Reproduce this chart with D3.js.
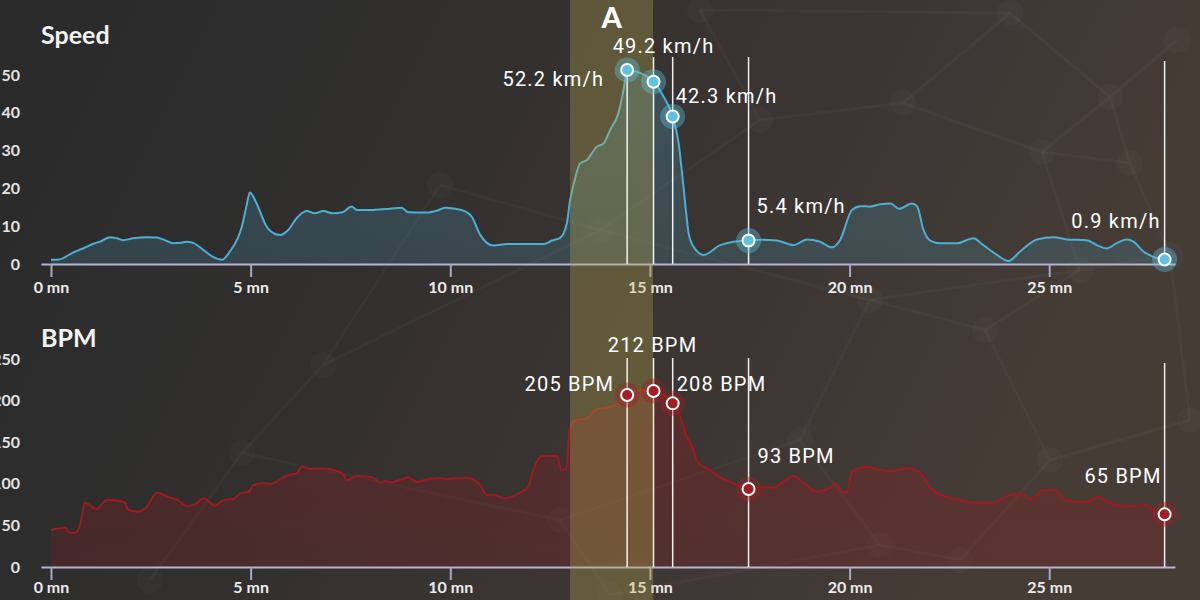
<!DOCTYPE html>
<html><head><meta charset="utf-8">
<script src="https://cdn.jsdelivr.net/npm/d3@7"></script>
<style>
html,body{margin:0;padding:0;background:#2c2c2c;overflow:hidden}
svg{display:block}
</style></head><body>
<svg id="chart" width="1200" height="600"></svg>
<script>
// ---------- DATA ----------
const speedTimes = [0.0,0.2,0.55,0.8,1.05,1.25,1.48,1.65,1.81,2.06,2.4,2.65,2.85,3.06,3.25,3.4,3.56,3.82,4.07,4.28,4.48,4.78,4.9,4.98,5.15,5.4,5.6,5.74,5.94,6.15,6.4,6.61,6.82,7.07,7.3,7.53,7.66,8.07,8.49,8.78,8.95,9.41,9.66,9.87,10.08,10.33,10.54,10.75,11.08,11.42,12.0,12.34,12.55,12.75,12.92,13.0,13.1,13.25,13.42,13.67,13.84,14.0,14.21,14.34,14.43,15.09,15.34,15.57,15.72,15.84,15.97,16.09,16.34,16.76,17.09,17.47,17.8,18.18,18.6,18.93,19.26,19.56,19.76,20.06,20.27,20.52,20.77,21.02,21.25,21.56,21.69,21.85,22.02,22.27,22.69,23.1,23.35,23.69,23.98,24.27,24.69,25.11,25.44,25.94,26.19,26.44,26.69,26.94,27.11,27.36,27.61,27.89];
const speedValues = [1.1,1.2,3.0,4.1,5.3,6.0,7.1,6.8,6.3,6.8,7.1,7.0,6.3,5.5,5.6,5.9,5.6,3.7,1.8,1.1,3.3,9.9,15.5,18.9,16.0,9.9,8.0,7.7,9.0,12.1,14.0,13.4,14.0,13.4,13.7,15.2,14.3,14.3,14.6,14.9,13.7,13.6,14.1,14.9,14.7,14.1,12.5,7.7,4.9,5.3,5.3,5.3,6.2,6.9,10.8,16.9,21.5,26.6,27.5,31.0,31.9,35.4,39.9,46.0,51.3,48.2,44.3,39.0,31.9,20.5,8.1,4.6,2.4,5.0,5.9,6.2,6.4,6.2,5.0,6.5,5.9,4.4,6.3,14.3,15.3,15.2,15.8,16.0,14.6,16.0,15.3,9.0,6.2,5.5,5.5,6.8,5.0,2.4,0.8,3.3,6.5,7.1,6.5,6.3,5.0,4.1,5.5,6.5,5.9,3.3,1.9,1.2];

const bpmTimes = [0.0,0.35,0.48,0.6,0.73,0.85,1.14,1.39,1.73,1.85,1.94,2.19,2.4,2.65,2.98,3.15,3.4,3.61,3.82,4.11,4.32,4.57,4.78,4.95,5.07,5.32,5.49,5.69,5.99,6.15,6.28,6.49,6.82,7.07,7.3,7.41,7.66,8.07,8.24,8.41,8.5,8.74,8.95,9.16,9.45,9.74,9.91,10.41,10.75,10.91,11.08,11.37,11.71,11.96,12.08,12.29,12.67,12.79,12.9,13.0,13.17,13.42,13.63,14.09,14.43,14.75,15.09,15.34,15.57,15.76,15.92,16.09,16.18,16.43,16.76,17.09,17.47,17.84,18.09,18.34,18.6,18.85,19.18,19.51,19.64,19.85,19.93,20.06,20.43,20.68,21.02,21.44,21.77,22.02,22.35,22.69,23.1,23.61,23.94,24.27,24.52,24.86,25.15,25.4,25.86,26.23,26.61,27.03,27.45,27.61,27.89];
const bpmValues = [44.5,47.3,41.2,41.2,50.5,77.3,69.7,80.5,79.3,77.3,68.5,66.5,72.5,89.3,83.3,81.3,73.3,75.3,82.5,73.7,80.5,81.7,89.7,90.5,98.6,100.6,99.8,103.8,111.4,112.2,120.6,117.8,118.6,116.6,112.2,104.6,109.8,107.4,101.4,103.8,101.8,104.6,107.8,102.2,105.8,106.6,105.8,107.4,98.6,86.5,86.5,82.5,88.5,97.4,116.6,133.4,133.4,116.6,118.0,168.6,176.7,178.7,188.7,193.5,206.7,212.7,211.5,206.7,196.7,180.6,156.6,140.6,126.6,118.6,107.8,100.6,93.7,96.5,95.3,102.6,109.8,100.6,90.5,95.7,100.6,89.7,89.7,114.6,120.6,117.8,115.4,118.6,112.6,95.3,85.3,81.3,77.3,77.3,85.3,88.5,81.3,92.5,92.5,80.5,77.7,83.7,75.3,73.3,74.5,68.5,63.3];

const markerTimes = [14.43, 15.09, 15.57, 17.47, 27.89];
const speedMarkerValues = [51.3, 48.2, 39.0, 6.2, 1.2];
const bpmMarkerValues = [206.7, 211.5, 196.7, 93.7, 63.3];
const speedLabels = ["52.2 km/h", "49.2 km/h", "42.3 km/h", "5.4 km/h", "0.9 km/h"];
const bpmLabels = ["205 BPM", "212 BPM", "208 BPM", "93 BPM", "65 BPM"];

const xTicks = [0, 5, 10, 15, 20, 25];
const xTickLabels = ["0 mn", "5 mn", "10 mn", "15 mn", "20 mn", "25 mn"];
const speedTicks = [0, 10, 20, 30, 40, 50];
const bpmTicks = [0, 50, 100, 150, 200, 250];
const highlightRange = [13.0, 15.08];
const highlightLabel = "A";
const titles = ["Speed", "BPM"];

// ---------- LAYOUT ----------
const W = 1200, H = 600;
const svg = d3.select("#chart");
const defs = svg.append("defs");

const bg = defs.append("linearGradient").attr("id","bgGrad").attr("x1","0").attr("y1","0").attr("x2","1").attr("y2","0.25");
bg.append("stop").attr("offset","0%").attr("stop-color","#2a2a2b");
bg.append("stop").attr("offset","35%").attr("stop-color","#302f2e");
bg.append("stop").attr("offset","100%").attr("stop-color","#463c36");
svg.append("rect").attr("width",W).attr("height",H).attr("fill","url(#bgGrad)");

// faint network texture (decoration)
const netNodes = [[1010,13],[1177,40],[1110,97],[1042,152],[1130,163],[903,103],[1080,270],[1170,255],[440,185],[323,365],[242,453],[560,520],[610,595],[800,440],[870,300],[985,330],[700,10],[880,545],[1050,460],[150,580],[600,230],[760,120],[1190,420],[960,560]];
const netLinks = [[0,2],[0,5],[1,2],[2,3],[2,4],[3,4],[3,5],[3,6],[4,7],[6,7],[6,14],[6,15],[8,9],[9,10],[10,19],[10,11],[11,12],[11,13],[13,14],[14,15],[13,17],[15,18],[18,22],[7,22],[18,23],[17,23],[8,20],[20,21],[21,16],[16,0],[21,5],[20,14],[9,20],[12,17]];
const net = svg.append("g");
net.selectAll("line").data(netLinks).join("line")
  .attr("x1",d=>netNodes[d[0]][0]).attr("y1",d=>netNodes[d[0]][1])
  .attr("x2",d=>netNodes[d[1]][0]).attr("y2",d=>netNodes[d[1]][1])
  .attr("stroke","rgba(255,255,255,0.028)").attr("stroke-width",3);
net.selectAll("circle").data(netNodes).join("circle")
  .attr("cx",d=>d[0]).attr("cy",d=>d[1]).attr("r",13)
  .attr("fill","rgba(255,255,255,0.025)");

const x = d3.scaleLinear().domain([-0.25, 28.15]).range([41, 1175]);

function grad(id, color, a1, a2){
  const g = defs.append("linearGradient").attr("id",id).attr("x1",0).attr("y1",0).attr("x2",0).attr("y2",1);
  g.append("stop").attr("offset","0%").attr("stop-color",color).attr("stop-opacity",a1);
  g.append("stop").attr("offset","100%").attr("stop-color",color).attr("stop-opacity",a2);
}
grad("speedFill","#4a9ec0",0.3,0.2);
grad("bpmFill","#9a1a22",0.3,0.22);

const panels = [
  {title: titles[0], times: speedTimes, values: speedValues, domain:[0,55], range:[264,56], ticks: speedTicks,
   line:"#4cb0d2", fill:"url(#speedFill)", dot:"#5ec2e2", mVals: speedMarkerValues, labels: speedLabels,
   titleY: 44, tickBase: 29,
   lay:[{a:"end",dx:-23,dy:16,top:null},{a:"middle",dx:10,dy:-29,top:57},{a:"start",dx:3,dy:-14,top:57},{a:"start",dx:8,dy:-28,top:57},{a:"end",dx:-4,dy:-31,top:61}]},
  {title: titles[1], times: bpmTimes, values: bpmValues, domain:[0,250], range:[567,359], ticks: bpmTicks,
   line:"#9e1a20", fill:"url(#bpmFill)", dot:"#a51c22", mVals: bpmMarkerValues, labels: bpmLabels,
   titleY: 347, tickBase: 26,
   lay:[{a:"end",dx:-13,dy:-4,top:358},{a:"middle",dx:-1,dy:-39,top:358},{a:"start",dx:4,dy:-12,top:358},{a:"start",dx:9,dy:-26,top:358},{a:"end",dx:-3,dy:-31,top:363}]}
];

panels.forEach(p => {
  p.y = d3.scaleLinear().domain(p.domain).range(p.range);
  const pts = p.times.map((t,i)=>[t,p.values[i]]);
  const area = d3.area().x(d=>x(d[0])).y0(p.y(0)).y1(d=>p.y(d[1])).curve(d3.curveMonotoneX);
  const line = d3.line().x(d=>x(d[0])).y(d=>p.y(d[1])).curve(d3.curveMonotoneX);
  svg.append("path").datum(pts).attr("d",area).attr("fill",p.fill);
  svg.append("path").datum(pts).attr("d",line).attr("fill","none").attr("stroke",p.line).attr("stroke-width",2).attr("stroke-linejoin","round");

  // x axis
  const ax = svg.append("g").attr("transform",`translate(0,${p.y(0)})`)
    .call(d3.axisBottom(x).tickValues(xTicks).tickFormat((d,i)=>xTickLabels[i]).tickSize(13).tickSizeOuter(0));
  ax.select(".domain").attr("stroke","#b4b4d2").attr("stroke-width",2);
  ax.selectAll(".tick line").attr("stroke","#a8a8c6").attr("stroke-width",2);
  ax.selectAll(".tick text").attr("fill","#ececec").attr("font-family","Lato, sans-serif").attr("font-weight",700).attr("font-size",16)
    .attr("y",p.tickBase).attr("dy",null);

  // y axis labels
  const ay = svg.append("g").attr("transform","translate(20,0)")
    .call(d3.axisLeft(p.y).tickValues(p.ticks).tickSize(0).tickPadding(0));
  ay.select(".domain").remove();
  ay.selectAll(".tick text").attr("fill","#e4e4e4").attr("font-family","Lato, sans-serif").attr("font-weight",700).attr("font-size",16);

  svg.append("text").attr("x",41).attr("y",p.titleY).text(p.title)
    .attr("fill","#f4f4f4").attr("font-family","Lato, sans-serif").attr("font-weight",700).attr("font-size",25);
});

// highlight band
svg.append("rect").attr("x",x(highlightRange[0])).attr("y",0)
  .attr("width",x(highlightRange[1])-x(highlightRange[0])).attr("height",H)
  .attr("fill","rgb(182,168,80)").attr("fill-opacity",0.33);
svg.append("text").attr("x",(x(highlightRange[0])+x(highlightRange[1]))/2).attr("y",28)
  .attr("text-anchor","middle").text(highlightLabel)
  .attr("fill","#ffffff").attr("font-family","Lato, sans-serif").attr("font-weight",900).attr("font-size",29);

// markers
panels.forEach(p => {
  const g = svg.append("g");
  const md = markerTimes.map((t,i)=>({t, v:p.mVals[i], label:p.labels[i], lay:p.lay[i]}));
  g.selectAll("line.vl").data(md).join("line").attr("class","vl")
    .attr("x1",d=>x(d.t)).attr("x2",d=>x(d.t))
    .attr("y1",d=>d.lay.top===null ? p.y(d.v) : d.lay.top).attr("y2",p.y(0))
    .attr("stroke","#ffffff").attr("stroke-opacity",0.92).attr("stroke-width",1.5);
  g.selectAll("circle.halo").data(md).join("circle").attr("class","halo")
    .attr("cx",d=>x(d.t)).attr("cy",d=>p.y(d.v)).attr("r",12.5)
    .attr("fill",p.dot).attr("fill-opacity",0.38);
  g.selectAll("circle.dot").data(md).join("circle").attr("class","dot")
    .attr("cx",d=>x(d.t)).attr("cy",d=>p.y(d.v)).attr("r",6)
    .attr("fill",p.dot).attr("stroke","#ffffff").attr("stroke-width",2);
  g.selectAll("text").data(md).join("text")
    .attr("x",d=>x(d.t)+d.lay.dx).attr("y",d=>p.y(d.v)+d.lay.dy)
    .attr("text-anchor",d=>d.lay.a).text(d=>d.label)
    .attr("fill","#ffffff").attr("font-family","Roboto, sans-serif").attr("font-size",20)
    .attr("letter-spacing","1.2px");
});
</script>
</body></html>
